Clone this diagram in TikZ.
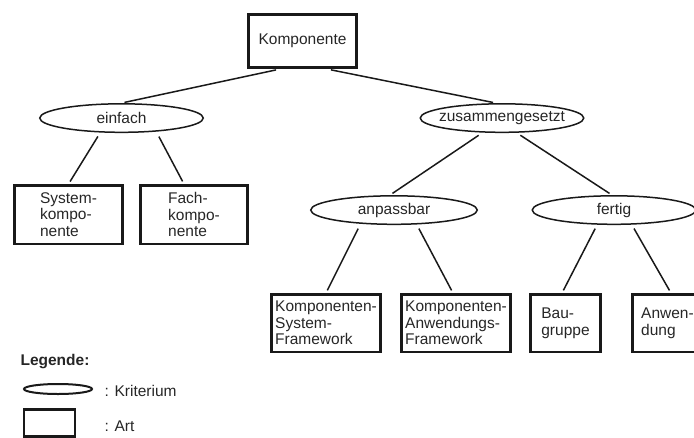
\documentclass[tikz,border=0pt]{standalone}
\usepackage{fontspec}
\setmainfont{Liberation Sans}
\usetikzlibrary{positioning,shapes.geometric}

\begin{document}
\begin{tikzpicture}[
  x=1pt, y=-1pt,
  every node/.style={font=\fontsize{15.5}{16.5}\selectfont, text=black!85},
  art/.style={rectangle, draw=black!90, line width=2.6pt, align=left, inner sep=0pt},
  krit/.style={ellipse, draw=black!90, line width=1.5pt, inner sep=0pt, inner xsep=-8pt,
    minimum width=163.5pt, minimum height=28.5pt},
  con/.style={draw=black!90, line width=1.5pt, shorten <=4pt, shorten >=3pt}
]
\useasboundingbox (0,0) rectangle (694,437);

% Top: root
\node[art, minimum width=108.5pt, minimum height=53.5pt] (KOMP) at (302.5,41) {Komponente};

% Level 1: criteria
\node[krit, below=34pt of KOMP, xshift=-181pt] (EINF) {einfach};
\node[krit, below=34pt of KOMP, xshift=199.5pt] (ZUS) {zusammengesetzt};
\path[con] ([xshift=-22.5pt]KOMP.south) -- (EINF.north);
\path[con] ([xshift=24.5pt]KOMP.south) -- ([xshift=-6pt]ZUS.north);

% Level 2
\node[art, below=51pt of EINF, xshift=-53pt, minimum width=108.5pt, minimum height=58.5pt] (SYS) {System-\\kompo-\\nente};
\node[art, below=51pt of EINF, xshift=72.5pt, minimum width=107.5pt, minimum height=58.5pt] (FACH) {Fach-\\kompo-\\nente};
\path[con] ([xshift=-21.5pt]EINF.south) -- (SYS.north);
\path[con] ([xshift=35.5pt]EINF.south) -- ([xshift=-10pt]FACH.north);

\node[krit, below=62pt of ZUS, xshift=-108pt, minimum width=166.5pt] (ANP) {anpassbar};
\node[krit, below=62pt of ZUS, xshift=112pt] (FERT) {fertig};
\path[con] ([xshift=-20pt]ZUS.south) -- ([xshift=-4pt]ANP.north);
\path[con] ([xshift=15pt]ZUS.south) -- ([xshift=-2pt]FERT.north);

% Level 3
\node[art, below=68pt of ANP, xshift=-68pt, minimum width=109.5pt, minimum height=57.5pt] (KSF) {Komponenten-\\System-\\Framework};
\node[art, below=68pt of ANP, xshift=62pt, minimum width=109.5pt, minimum height=57.5pt] (KAF) {Komponenten-\\Anwendungs-\\Framework};
\node[art, below=68pt of FERT, xshift=-48.5pt, minimum width=70.5pt, minimum height=57.5pt] (BAU) {Bau-\\gruppe};
\node[art, below=68pt of FERT, xshift=53.5pt, minimum width=70.5pt, minimum height=57.5pt] (ANW) {Anwen-\\dung};
\path[con] ([xshift=-34pt]ANP.south) -- (KSF.north);
\path[con] ([xshift=23pt]ANP.south) -- ([xshift=-3pt]KAF.north);
\path[con] ([xshift=-17pt]FERT.south) -- ([xshift=-3.5pt]BAU.north);
\path[con] ([xshift=18pt]FERT.south) -- ([xshift=3.5pt]ANW.north);

% Legend
\node[anchor=west, font=\bfseries\fontsize{15.5}{16.5}\selectfont] (LEG) at (17,362) {Legende:};
\node[krit, line width=2pt, inner xsep=0pt, minimum width=68pt, minimum height=10pt] (LKRIT) at (58,389) {};
\node[art, minimum width=51pt, minimum height=27pt] (LART) at (49.5,423) {};
\node[anchor=west] (LKRITTXT) at (101,391) {: Kriterium};
\node[anchor=west] (LARTTXT) at (101,426) {: Art};

\end{tikzpicture}
\end{document}
